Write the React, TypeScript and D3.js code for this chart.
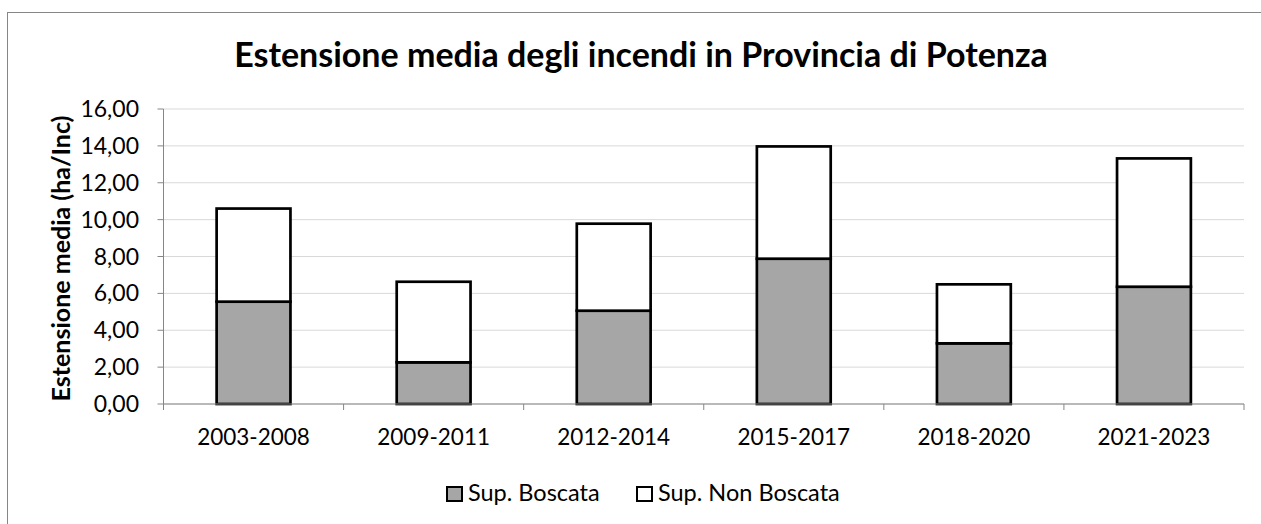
import React from 'react';
import * as d3 from 'd3';

// periods on the x axis
const periods = ['2003-2008', '2009-2011', '2012-2014', '2015-2017', '2018-2020', '2021-2023'];
// ha per fire, wooded area
const supBoscata = [5.55, 2.26, 5.06, 7.88, 3.29, 6.36];
// ha per fire, non wooded area
const supNonBoscata = [5.05, 4.37, 4.72, 6.09, 3.2, 6.96];
const yTicks = [0, 2, 4, 6, 8, 10, 12, 14, 16];
const seriesNames = ['Sup. Boscata', 'Sup. Non Boscata'];
const seriesColors = ['#a6a6a6', '#ffffff'];

const W = 1261;
const H = 524;
const FONT = 'Lato, "Open Sans", sans-serif';

const App = () => {
  const x = d3.scaleBand().domain(periods).range([163.5, 1244]).padding(0);
  const y = d3.scaleLinear().domain([0, 16]).range([404, 109]);
  const barW = x.bandwidth() * 0.41;
  const fmt = (v: number) => d3.format('.2f')(v).replace('.', ',');

  const rows = periods.map((p, i) => ({ period: p, boscata: supBoscata[i], nonBoscata: supNonBoscata[i] }));
  const stack = d3.stack<any>().keys(['boscata', 'nonBoscata'])(rows);

  const [x0, x1] = x.range();

  return (
    <svg width={W} height={H} style={{ position: 'absolute', left: 0, top: 0, background: '#fff' }}>
      {/* chart area border */}
      <rect x={7.5} y={12.5} width={W + 10} height={H + 10} fill="#fff" stroke="#868686" strokeWidth={1} />

      <text x={641} y={67} textAnchor="middle" fontFamily={FONT} fontWeight="bold" fontSize={34} fill="#000">
        Estensione media degli incendi in Provincia di Potenza
      </text>

      {/* gridlines */}
      {yTicks.map(t => (
        <line key={'g' + t} x1={x0} x2={x1} y1={y(t)} y2={y(t)} stroke="#d9d9d9" strokeWidth={1} />
      ))}

      {/* y axis */}
      <line x1={x0} x2={x0} y1={y(16)} y2={y(0)} stroke="#868686" strokeWidth={1} />
      {yTicks.map(t => (
        <g key={'t' + t}>
          <line x1={x0 - 6} x2={x0} y1={y(t)} y2={y(t)} stroke="#868686" />
          <text x={139} y={y(t)} dy="0.35em" textAnchor="end" fontFamily={FONT} fontSize={23} fill="#000">
            {fmt(t)}
          </text>
        </g>
      ))}
      <text
        transform={`translate(61, ${(y(0) + y(16)) / 2 + 2}) rotate(-90)`}
        textAnchor="middle"
        dy="0.35em"
        fontFamily={FONT}
        fontWeight="bold"
        fontSize={25}
        fill="#000"
      >
        Estensione media (ha/Inc)
      </text>

      {/* bars */}
      {stack.map((s, si) =>
        s.map((d, i) => (
          <rect
            key={si + '-' + i}
            x={(x(periods[i]) as number) + (x.bandwidth() - barW) / 2}
            y={y(d[1])}
            width={barW}
            height={y(d[0]) - y(d[1])}
            fill={seriesColors[si]}
            stroke="#000"
            strokeWidth={2.7}
          />
        ))
      )}

      {/* x axis */}
      <line x1={x0} x2={x1} y1={y(0)} y2={y(0)} stroke="#868686" strokeWidth={1} />
      {periods.map((p, i) => (
        <line key={'xt' + i} x1={x(p)} x2={x(p)} y1={y(0)} y2={y(0) + 6} stroke="#868686" />
      ))}
      <line x1={x1} x2={x1} y1={y(0)} y2={y(0) + 6} stroke="#868686" />
      {periods.map(p => (
        <text
          key={'xl' + p}
          x={(x(p) as number) + x.bandwidth() / 2}
          y={445}
          textAnchor="middle"
          fontFamily={FONT}
          fontSize={22.5}
          fill="#000"
        >
          {p}
        </text>
      ))}

      {/* legend */}
      {seriesNames.map((n, i) => {
        const lx = [447, 637][i];
        return (
          <g key={'lg' + n}>
            <rect x={lx} y={487} width={15} height={14} fill={seriesColors[i]} stroke="#000" strokeWidth={2} />
            <text x={lx + 21} y={501} fontFamily={FONT} fontSize={23.5} fill="#000">
              {n}
            </text>
          </g>
        );
      })}
    </svg>
  );
};

export default App;
